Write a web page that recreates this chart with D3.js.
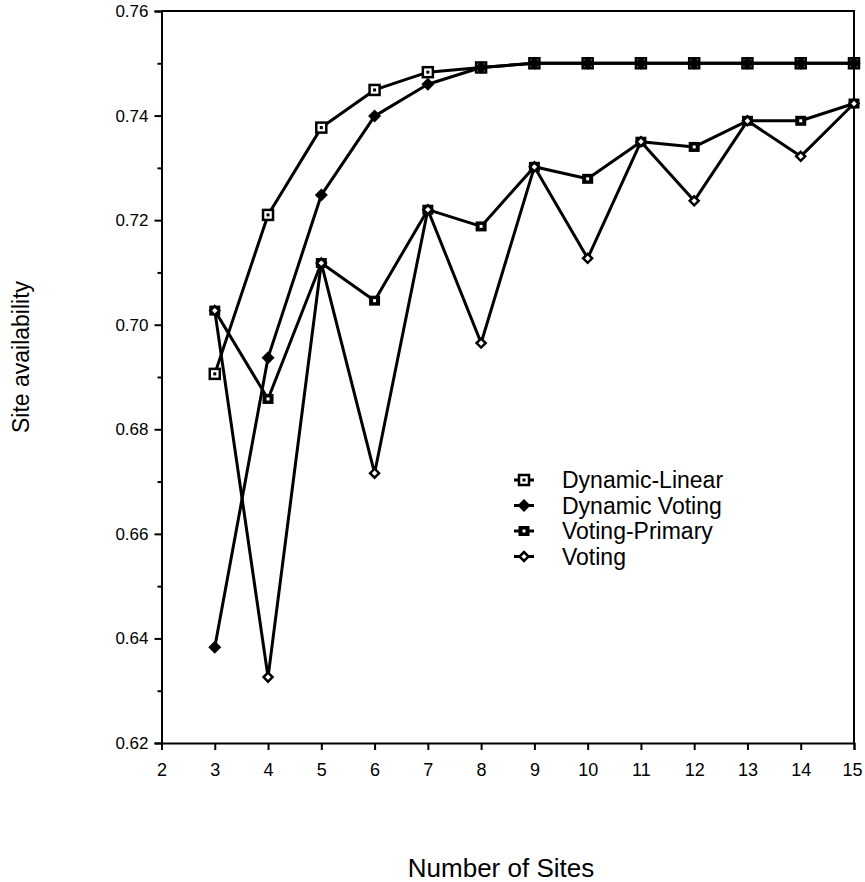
<!DOCTYPE html>
<html>
<head>
<meta charset="utf-8">
<script src="https://cdn.jsdelivr.net/npm/d3@7"></script>
<style>
  body { margin: 0; background: #fff; }
  svg text { font-family: "Liberation Sans", Arial, Helvetica, sans-serif; fill: #000; }
</style>
</head>
<body>
<div id="chart"></div>
<script>
// number of sites on the x axis
const sites = [3, 4, 5, 6, 7, 8, 9, 10, 11, 12, 13, 14, 15];

// availability values
const dynamicLinear = [0.6906, 0.7210, 0.7377, 0.7449, 0.7483, 0.7492, 0.7500, 0.7500, 0.7500, 0.7500, 0.7500, 0.7500, 0.7500];
const dynamicVoting = [0.6383, 0.6937, 0.7248, 0.7399, 0.7460, 0.7492, 0.7500, 0.7500, 0.7500, 0.7500, 0.7500, 0.7500, 0.7500];
const votingPrimary = [0.7027, 0.6858, 0.7118, 0.7046, 0.7220, 0.7188, 0.7302, 0.7279, 0.7350, 0.7340, 0.7390, 0.7390, 0.7423];
const voting = [0.7027, 0.6326, 0.7118, 0.6716, 0.7220, 0.6965, 0.7302, 0.7127, 0.7350, 0.7237, 0.7390, 0.7322, 0.7423];

const xTicks = [2, 3, 4, 5, 6, 7, 8, 9, 10, 11, 12, 13, 14, 15];
const yTicks = [0.62, 0.64, 0.66, 0.68, 0.70, 0.72, 0.74, 0.76];
const yMinorTicks = [0.63, 0.65, 0.67, 0.69, 0.71, 0.73, 0.75];
const seriesNames = ['Dynamic-Linear', 'Dynamic Voting', 'Voting-Primary', 'Voting'];

function drawAvailabilityChart() {
  const margin = { top: 11, right: 11, bottom: 139, left: 161.5 };
  const width = 865 - margin.left - margin.right;
  const height = 882 - margin.top - margin.bottom;

  const x = d3.scaleLinear().domain([2, 15]).range([0, width]);
  const y = d3.scaleLinear().domain([0.62, 0.76]).range([height, 0]);

  const svg = d3.select('#chart').append('svg')
    .attr('width', 865)
    .attr('height', 882);

  const g = svg.append('g')
    .attr('transform', `translate(${margin.left},${margin.top})`);

  // frame (top and right sides)
  g.append('path')
    .attr('d', `M0,0H${width}V${height}`)
    .attr('fill', 'none')
    .attr('stroke', '#000')
    .attr('stroke-width', 2);

  // X Axis
  const xAxis = g.append('g')
    .attr('transform', `translate(0,${height})`)
    .call(d3.axisBottom(x).tickValues(xTicks).tickFormat(d3.format('d')).tickSize(7).tickPadding(13));
  xAxis.select('.domain').attr('stroke-width', 2);
  xAxis.selectAll('.tick line').attr('stroke-width', 2);
  xAxis.selectAll('.tick text').attr('font-size', 18)
    .style('font-family', '"Liberation Sans", Arial, sans-serif');
  // keep the last label inside the page
  xAxis.selectAll('.tick text').filter(d => d === 15).attr('dx', -2);

  // Y Axis, minor ticks first
  g.append('g')
    .call(d3.axisLeft(y).tickValues(yMinorTicks).tickSize(4).tickFormat(''))
    .call(s => s.select('.domain').remove())
    .selectAll('.tick line').attr('stroke-width', 2);

  const yAxis = g.append('g')
    .call(d3.axisLeft(y).tickValues(yTicks).tickFormat(d3.format('.2f')).tickSize(7).tickPadding(6));
  yAxis.select('.domain').attr('stroke-width', 2);
  yAxis.selectAll('.tick line').attr('stroke-width', 2);
  yAxis.selectAll('.tick text').attr('font-size', 17).style('font-family', '"Liberation Sans", Arial, sans-serif');

  // axis titles
  svg.append('text')
    .attr('x', 501)
    .attr('y', 877)
    .attr('text-anchor', 'middle')
    .attr('font-size', 26)
    .text('Number of Sites');

  svg.append('text')
    .attr('transform', 'translate(29,357) rotate(-90)')
    .attr('text-anchor', 'middle')
    .attr('font-size', 23)
    .text('Site availability');

  const line = d3.line()
    .x(d => x(d.site))
    .y(d => y(d.value));

  const toPoints = values => sites.map((site, i) => ({ site, value: values[i] }));

  const series = [
    { name: seriesNames[0], values: dynamicLinear, marker: 'openSquare' },
    { name: seriesNames[1], values: dynamicVoting, marker: 'filledDiamond' },
    { name: seriesNames[2], values: votingPrimary, marker: 'filledSquare' },
    { name: seriesNames[3], values: voting, marker: 'openDiamond' }
  ];

  // draws one marker symbol at (cx, cy)
  function drawMarker(parent, kind, cx, cy) {
    if (kind === 'openSquare') {
      parent.append('rect')
        .attr('x', cx - 5).attr('y', cy - 5).attr('width', 10).attr('height', 10)
        .attr('fill', '#fff').attr('stroke', '#000').attr('stroke-width', 2.5);
      parent.append('rect')
        .attr('x', cx - 1.5).attr('y', cy - 1.5).attr('width', 3).attr('height', 3)
        .attr('fill', '#000');
    } else if (kind === 'filledSquare') {
      parent.append('rect')
        .attr('x', cx - 5.5).attr('y', cy - 5).attr('width', 11).attr('height', 10)
        .attr('fill', '#000');
      parent.append('rect')
        .attr('x', cx - 1.5).attr('y', cy - 1.5).attr('width', 3).attr('height', 3)
        .attr('fill', '#fff');
    } else if (kind === 'filledDiamond') {
      parent.append('path')
        .attr('d', `M${cx},${cy - 6.5}L${cx + 6.5},${cy}L${cx},${cy + 6.5}L${cx - 6.5},${cy}Z`)
        .attr('fill', '#000');
    } else {
      parent.append('path')
        .attr('d', `M${cx},${cy - 4.5}L${cx + 4.5},${cy}L${cx},${cy + 4.5}L${cx - 4.5},${cy}Z`)
        .attr('fill', '#fff').attr('stroke', '#000').attr('stroke-width', 2.5);
    }
  }

  // Line Paths
  series.forEach(s => {
    g.append('path')
      .datum(toPoints(s.values))
      .attr('fill', 'none')
      .attr('stroke', '#000')
      .attr('stroke-width', 3)
      .attr('stroke-linejoin', 'round')
      .attr('d', line);
  });

  // Markers: dynamic voting drawn last so overlapping points look solid
  [series[0], series[2], series[3], series[1]].forEach(s => {
    const mg = g.append('g');
    toPoints(s.values).forEach(d => drawMarker(mg, s.marker, x(d.site), y(d.value)));
  });

  // Legend
  const legend = svg.append('g');
  series.forEach((s, i) => {
    const cy = 480 + i * 25.5;
    legend.append('line')
      .attr('x1', 514).attr('x2', 534)
      .attr('y1', cy).attr('y2', cy)
      .attr('stroke', '#000').attr('stroke-width', 3);
    drawMarker(legend, s.marker, 524, cy);
    legend.append('text')
      .attr('x', 562)
      .attr('y', cy + 8)
      .attr('font-size', 23)
      .text(s.name);
  });
}

drawAvailabilityChart();
</script>
</body>
</html>
